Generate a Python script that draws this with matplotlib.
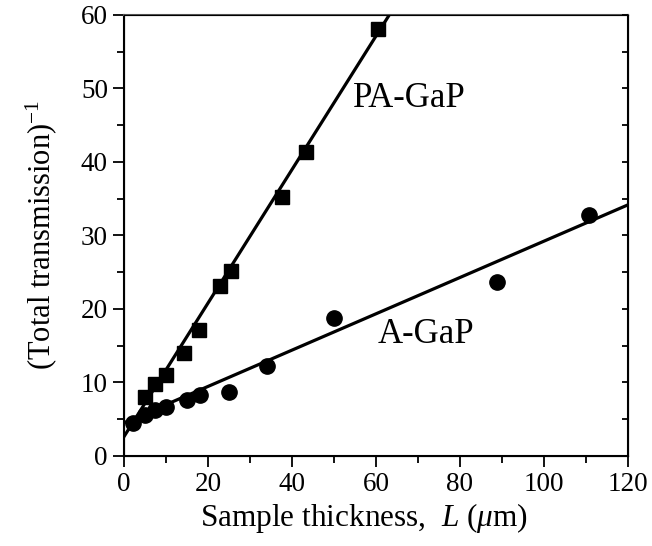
import matplotlib
matplotlib.use('Agg')
import matplotlib.pyplot as plt
import numpy as np
from matplotlib.ticker import MultipleLocator

plt.rcParams['font.family'] = ['Liberation Serif', 'DejaVu Serif']
plt.rcParams['mathtext.fontset'] = 'custom'
plt.rcParams['mathtext.rm'] = 'Liberation Serif'
plt.rcParams['mathtext.it'] = 'Liberation Serif:italic'

# PA-GaP (squares)
pa_L = [5.0, 7.4, 10.1, 14.2, 18.0, 22.8, 25.6, 37.7, 43.4, 60.5]
pa_inv_t = [8.0, 9.8, 11.0, 14.0, 17.1, 23.1, 25.2, 35.2, 41.4, 58.1]

# A-GaP (circles)
a_L = [2.2, 5.0, 7.4, 10.1, 15.0, 18.2, 25.0, 34.0, 50.1, 88.9, 110.7]
a_inv_t = [4.5, 5.6, 6.2, 6.7, 7.6, 8.3, 8.7, 12.2, 18.8, 23.7, 32.8]

# linear fits: (slope, intercept)
pa_fit = (0.908, 2.6)
a_fit = (0.247, 4.5)

fig = plt.figure(figsize=(6.52, 5.46), dpi=100)
ax = fig.add_axes([0.190, 0.165, 0.773, 0.808])

xs = np.array([0, 120])
ax.plot(xs, pa_fit[0] * xs + pa_fit[1], color='black', lw=2.3)
ax.plot(xs, a_fit[0] * xs + a_fit[1], color='black', lw=2.3)
ax.plot(pa_L, pa_inv_t, 's', color='black', ms=10.5, clip_on=False)
ax.plot(a_L, a_inv_t, 'o', color='black', ms=11, clip_on=False)

ax.text(54.6, 47.5, 'PA-GaP', fontsize=25, ha='left', va='baseline')
ax.text(60.4, 15.4, 'A-GaP', fontsize=25, ha='left', va='baseline')

ax.set_xlim(0, 120)
ax.set_ylim(0, 60)
ax.xaxis.set_major_locator(MultipleLocator(20))
ax.xaxis.set_minor_locator(MultipleLocator(10))
ax.yaxis.set_major_locator(MultipleLocator(10))
ax.yaxis.set_minor_locator(MultipleLocator(5))
ax.tick_params(which='both', direction='out', labelsize=19.5, width=1.3,
               top=False, right=False)
ax.tick_params(which='major', length=8)
ax.tick_params(which='minor', length=5)

# inward ticks on the right spine
ax2 = ax.twinx()
ax2.set_ylim(0, 60)
ax2.yaxis.set_major_locator(MultipleLocator(5))
ax2.tick_params(direction='in', length=4, width=1.3, labelright=False)

for sp in ax.spines.values():
    sp.set_linewidth(1.5)
ax.spines['top'].set_color('#555555')

ax.set_xlabel(r'Sample thickness,  $L$ ($\mu$m)', fontsize=22.5, labelpad=3)
ax.xaxis.label.set_x(0.476)
ax.set_ylabel(r'(Total transmission)$^{\mathregular{-1}}$', fontsize=22, labelpad=16)

fig.savefig('out.png', dpi=100)
